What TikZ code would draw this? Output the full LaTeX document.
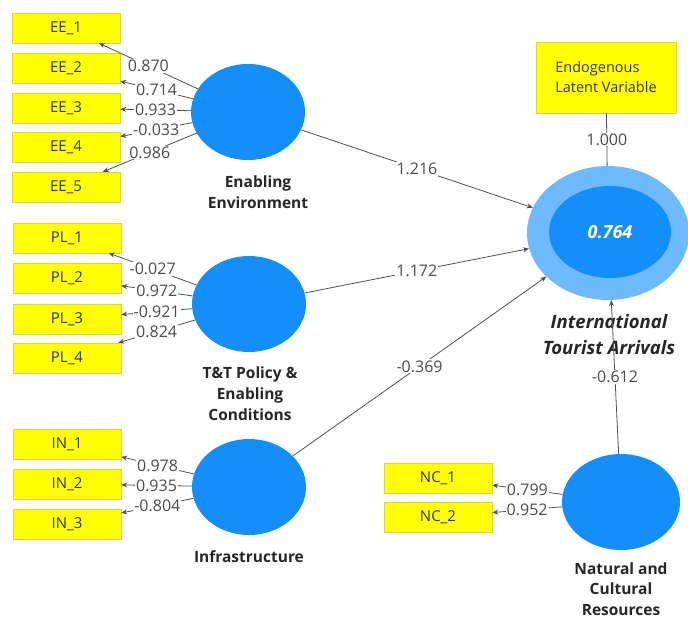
\documentclass[tikz,border=0pt]{standalone}
\usepackage{fontspec}
\setmainfont{Open Sans}
\usetikzlibrary{shapes.geometric,arrows.meta}
\definecolor{lvblue}{RGB}{20,142,250}
\definecolor{ringblue}{RGB}{110,185,255}
\definecolor{mvyellow}{RGB}{255,255,0}
\definecolor{mvedge}{RGB}{215,215,60}
\definecolor{pathgray}{RGB}{80,80,80}
\tikzset{
  mv/.style={draw=mvedge, fill=mvyellow, minimum width=108pt, minimum height=30pt,
    inner sep=0pt, font=\fontsize{15}{17}\selectfont, text=black!80},
  lv/.style={ellipse, fill=lvblue, minimum width=114pt, minimum height=96pt, inner sep=0pt},
  lvname/.style={font=\bfseries\fontsize{15.5}{21}\selectfont, align=center, text=black!85},
  coef/.style={fill=white, inner sep=1pt, font=\fontsize{16}{17}\selectfont, text=black!70},
  link/.style={draw=pathgray, line width=0.8pt, -{Stealth[length=6pt,width=5pt]}},
}
\begin{document}
\begin{tikzpicture}[x=1pt,y=-1pt]
  \useasboundingbox (0,0) rectangle (688,619);
  % indicators
  \node[mv] (EE1) at (66,28) {EE\_1};
  \node[mv] (EE2) at (66,68) {EE\_2};
  \node[mv] (EE3) at (66,108) {EE\_3};
  \node[mv] (EE4) at (66,147) {EE\_4};
  \node[mv] (EE5) at (66,187) {EE\_5};
  \node[mv] (PL1) at (67,238) {PL\_1};
  \node[mv] (PL2) at (67,278) {PL\_2};
  \node[mv] (PL3) at (67,319) {PL\_3};
  \node[mv] (PL4) at (67,358) {PL\_4};
  \node[mv] (IN1) at (67,444) {IN\_1};
  \node[mv] (IN2) at (67,484) {IN\_2};
  \node[mv] (IN3) at (67,524) {IN\_3};
  \node[mv] (NC1) at (438,478) {NC\_1};
  \node[mv] (NC2) at (438,517) {NC\_2};
  \node[mv, minimum width=140pt, minimum height=71pt, align=left,
    font=\fontsize{14.5}{20}\selectfont] (endo) at (606,77.5) {Endogenous\\Latent Variable};
  % latent variables
  \node[lv] (EE) at (248,112) {};
  \node[lv] (PL) at (249,304) {};
  \node[lv] (IN) at (249,487) {};
  \node[lv, minimum width=118pt] (NC) at (621,502) {};
  \node[ellipse, fill=ringblue, minimum width=162pt, minimum height=134pt] (ITA) at (608,233) {};
  \node[ellipse, fill=lvblue, minimum width=122pt, minimum height=92pt, text=white,
    font=\bfseries\itshape\fontsize{18}{20}\selectfont] (ITAin) at (610,232) {0.764};
  \node[lvname] (EEtxt) at (258,192) {Enabling\\Environment};
  \node[lvname] (PLtxt) at (250,394) {T\&T Policy \&\\Enabling\\Conditions};
  \node[lvname] (INtxt) at (249,557) {Infrastructure};
  \node[lvname, font=\bfseries\fontsize{15.5}{20.5}\selectfont] (NCtxt) at (621,589)
    {Natural and\\Cultural\\Resources};
  \node[lvname, font=\bfseries\itshape\fontsize{18.5}{26}\selectfont] (ITAtxt) at (609,335)
    {International\\Tourist Arrivals};
  % outer loadings
  \draw (EE) edge[link] node[coef] {0.870} (EE1);
  \draw (EE) edge[link] node[coef] {0.714} (EE2);
  \draw (EE) edge[link] node[coef] {0.933} (EE3);
  \draw (EE) edge[link] node[coef] {-0.033} (EE4);
  \draw (EE) edge[link] node[coef] {0.986} (EE5);
  \draw (PL) edge[link] node[coef] {-0.027} (PL1);
  \draw (PL) edge[link] node[coef] {0.972} (PL2);
  \draw (PL) edge[link] node[coef] {-0.921} (PL3);
  \draw (PL) edge[link] node[coef] {0.824} (PL4);
  \draw (IN) edge[link] node[coef] {0.978} (IN1);
  \draw (IN) edge[link] node[coef] {0.935} (IN2);
  \draw (IN) edge[link] node[coef] {-0.804} (IN3);
  \draw (NC) edge[link] node[coef] {0.799} (NC1);
  \draw (NC) edge[link] node[coef] {0.952} (NC2);
  \draw (endo) edge[draw=pathgray, line width=0.8pt] node[coef] {1.000} (ITA);
  % path coefficients
  \draw (EE) edge[link] node[coef] {1.216} (ITA);
  \draw (PL) edge[link] node[coef] {1.172} (ITA);
  \draw (IN) edge[link] node[coef] {-0.369} (ITA);
  \draw (NC) edge[link] node[coef] {-0.612} (ITA);
\end{tikzpicture}
\end{document}
